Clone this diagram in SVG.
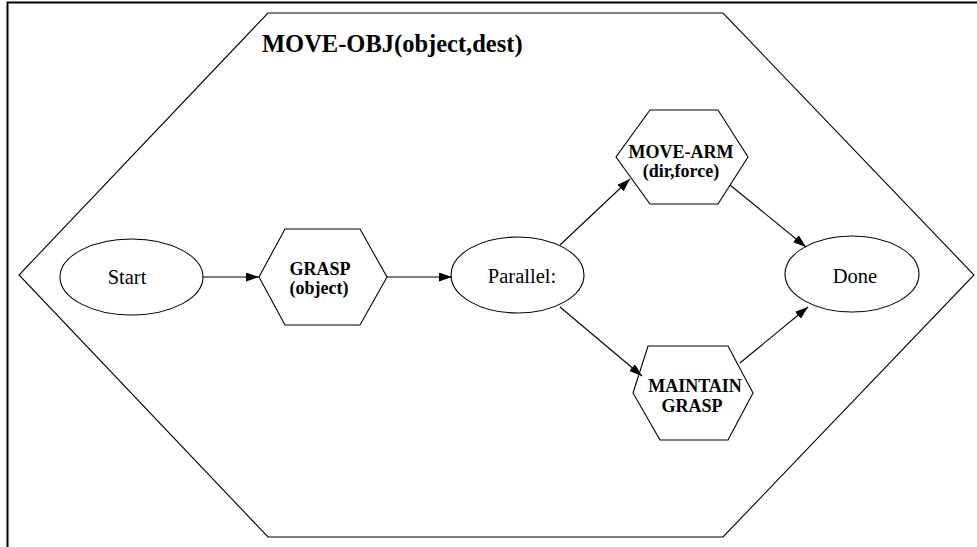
<svg xmlns="http://www.w3.org/2000/svg" width="977" height="547" viewBox="0 0 977 547">
<style>
.shape{fill:none;stroke:#000;stroke-width:1.1}
.edge{fill:none;stroke:#000;stroke-width:1.1}
.t{font-family:"Liberation Serif","Times New Roman",serif;font-size:20.5px;fill:#000;text-anchor:middle}
.b{font-family:"Liberation Serif","Times New Roman",serif;font-size:18px;font-weight:bold;fill:#000;text-anchor:middle}
.title{font-family:"Liberation Serif","Times New Roman",serif;font-size:24.5px;font-weight:bold;fill:#000}
</style>
<defs>
<marker id="ah" markerUnits="userSpaceOnUse" markerWidth="14" markerHeight="10" refX="13" refY="4.5" orient="auto">
<path d="M0,0 L13,4.5 L0,9 Z" fill="#000"/>
</marker>
</defs>
<rect width="977" height="547" fill="#fff"/>
<path d="M7.5,547 V2.5 H977" fill="none" stroke="#000" stroke-width="2"/>
<g id="outer">
<polygon class="shape" points="268,13 723,13 974,275 723,537 268,537 19,275"/>
<text class="title" x="262" y="52">MOVE-OBJ(object,dest)</text>
</g>
<g id="start">
<ellipse class="shape" cx="131.5" cy="277" rx="71.5" ry="38"/>
<text class="t" x="127" y="284">Start</text>
</g>
<g id="grasp">
<polygon class="shape" points="285,229 360,229 387,277 360,325 285,325 259,277"/>
<text class="b" x="320" y="275">GRASP</text>
<text class="b" x="319" y="294">(object)</text>
</g>
<g id="parallel">
<ellipse class="shape" cx="517.5" cy="275" rx="66.5" ry="38"/>
<text class="t" x="522" y="283">Parallel:</text>
</g>
<g id="movearm">
<polygon class="shape" points="650,110 718,110 748,157 718,204 650,204 616,157"/>
<text class="b" x="681" y="158">MOVE-ARM</text>
<text class="b" x="681" y="177">(dir,force)</text>
</g>
<g id="maintain">
<polygon class="shape" points="648,346 728,346 753,393 728,440 660,440 633,393"/>
<text class="b" x="695" y="392">MAINTAIN</text>
<text class="b" x="692" y="412">GRASP</text>
</g>
<g id="done">
<ellipse class="shape" cx="852" cy="274" rx="67" ry="38"/>
<text class="t" x="855" y="283">Done</text>
</g>
<g id="connectors">
<line class="edge" x1="203" y1="277" x2="259" y2="277" marker-end="url(#ah)"/>
<line class="edge" x1="387" y1="277" x2="452" y2="277" marker-end="url(#ah)"/>
<line class="edge" x1="560" y1="245" x2="630" y2="179" marker-end="url(#ah)"/>
<line class="edge" x1="730" y1="185" x2="806" y2="247" marker-end="url(#ah)"/>
<line class="edge" x1="560" y1="307" x2="642" y2="376" marker-end="url(#ah)"/>
<line class="edge" x1="740" y1="363" x2="808" y2="307" marker-end="url(#ah)"/>
</g>
</svg>
